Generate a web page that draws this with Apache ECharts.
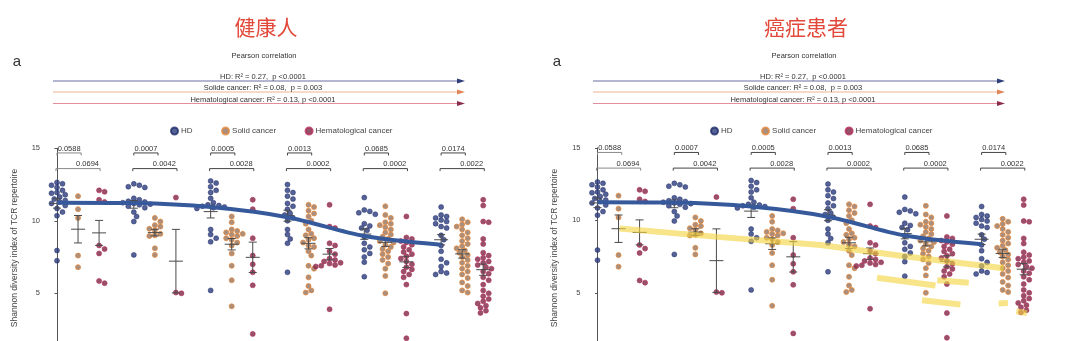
<!DOCTYPE html>
<html>
<head>
<meta charset="utf-8">
<script src="https://cdn.jsdelivr.net/npm/echarts@6/dist/echarts.min.js"></script>
<style>
  html, body { margin: 0; padding: 0; background: #fff; width: 1080px; height: 341px; overflow: hidden; }
  /* the plot continues below the visible strip down to the y = 0 baseline */
  #chart { width: 1080px; height: 380px; }
</style>
</head>
<body>
<div id="chart"></div>
<script>
// ---- data ---------------------------------------------------------------
const panelTitles = ['健康人', '癌症患者'];
const groupNames = ['HD', 'Solid cancer', 'Hematological cancer'];

// Shannon diversity index per donor, one inner list per age band
const hdValues = [
  [12.65, 12.55, 12.45, 12.3, 12.1, 11.95, 11.9, 11.8, 11.65, 11.5, 11.4, 11.3, 11.2, 11.05, 10.85, 10.6, 10.35, 7.95, 7.25],
  [12.55, 12.45, 12.35, 12.3, 11.55, 11.45, 11.35, 11.3, 11.25, 11.2, 11.15, 11.1, 11.0, 10.9, 10.6, 10.3, 9.95, 7.65],
  [12.75, 12.6, 12.35, 12.1, 11.95, 11.55, 11.25, 11.1, 11.05, 11.0, 10.95, 10.9, 10.85, 9.4, 9.05, 8.8, 8.55, 5.2],
  [12.5, 12.1, 11.95, 11.7, 11.5, 11.2, 11.0, 10.8, 10.5, 10.4, 10.2, 10.0, 9.4, 9.05, 8.75, 8.45, 6.45],
  [11.6, 10.75, 10.65, 10.55, 10.45, 9.8, 9.65, 9.5, 9.35, 8.9, 8.45, 8.2, 8.0, 7.75, 7.5, 7.15, 6.15],
  [10.95, 10.4, 10.3, 10.2, 10.05, 9.95, 9.8, 9.6, 9.5, 9.0, 8.7, 8.3, 7.9, 7.35, 7.1, 6.85, 6.5, 6.4, 6.3]
];
const solidValues = [
  [11.7, 10.8, 10.2, 7.6, 6.8],
  [10.2, 9.95, 9.7, 9.6, 9.45, 9.35, 9.1, 9.0, 8.95, 8.1, 7.65],
  [10.3, 9.9, 9.4, 9.3, 9.2, 9.1, 9.05, 8.95, 8.8, 8.7, 8.5, 8.3, 7.75, 6.9, 5.9, 4.1],
  [11.1, 10.95, 10.7, 10.5, 10.3, 10.0, 9.8, 9.4, 9.1, 9.0, 8.8, 8.7, 8.5, 8.3, 8.2, 7.9, 7.6, 6.9, 6.7, 6.1, 5.5, 5.2, 5.05],
  [11.0, 10.4, 10.2, 9.9, 9.8, 9.7, 9.55, 9.4, 9.2, 9.05, 8.9, 8.75, 8.6, 8.5, 8.35, 8.2, 8.05, 7.9, 7.7, 7.5, 7.3, 7.05, 6.7, 6.2, 5.0],
  [10.1, 9.9, 9.75, 9.6, 9.4, 9.2, 9.0, 8.8, 8.6, 8.4, 8.25, 8.1, 7.95, 7.8, 7.65, 7.5, 7.3, 7.1, 6.9, 6.7, 6.5, 6.3, 6.05, 5.75, 5.5, 5.2, 5.05]
];
const hematValues = [
  [12.1, 12.0, 11.45, 11.3, 8.3, 8.05, 7.75, 5.7, 5.85],
  [11.6, 5.0, 5.05],
  [11.45, 10.8, 8.8, 7.6, 7.0, 6.45, 5.55, 2.2],
  [11.1, 9.6, 9.5, 8.45, 8.3, 7.9, 7.7, 7.4, 7.3, 7.2, 7.1, 7.05, 6.95, 6.9, 6.85, 3.9],
  [10.3, 8.85, 8.75, 8.6, 8.5, 8.35, 8.2, 8.0, 7.85, 7.7, 7.55, 7.4, 7.2, 7.0, 6.8, 6.65, 6.5, 6.3, 6.1, 5.6, 3.6, 1.9],
  [11.45, 11.05, 9.95, 9.9, 8.75, 8.4, 7.8, 7.6, 7.45, 7.35, 7.2, 7.1, 6.95, 6.8, 6.7, 6.5, 6.35, 6.1, 5.9, 5.6, 5.2, 5.0, 4.8, 4.6, 4.45, 4.3, 4.15, 4.0, 3.8, 3.65]
];

// fitted HD curve, one point per age band
const hdTrend = [11.25, 11.22, 10.95, 10.25, 8.95, 8.35];

// pairwise p-values per age band: HD vs solid, HD vs hematological
const pHdSolid = ['0.0588', '0.0007', '0.0005', '0.0013', '0.0685', '0.0174'];
const pHdHemat = ['0.0694', '0.0042', '0.0028', '0.0002', '0.0002', '0.0022'];

const pearsonLines = [
  'HD: R\u00B2 = 0.27,  p <0.0001',
  'Solide cancer: R\u00B2 = 0.08,  p = 0.003',
  'Hematological cancer: R\u00B2 = 0.13, p <0.0001'
];

// highlighter strokes on the patient panel, [x position, index value]
const solidTrendMark = [[1.05, 9.44], [5.84, 8.84], [10.6, 8.29], [14.4, 7.55], [19.3, 6.7]];
const shortMarks = [
  [[13.28, 6.04], [16.06, 5.5]],
  [[16.14, 5.87], [17.64, 5.69]],
  [[15.42, 4.49], [17.24, 4.19]],
  [[19.06, 4.26], [19.5, 4.3]],
  [[19.9, 3.73], [20.4, 3.6]]
];

// ---- layout helpers ---------------------------------------------------------
const SLOT = 3.65;               // distance between age bands in x units
const PX_U = 21.05, PX_V = 14.5; // pixels per unit
const DOT = 5;
const FONT = 'Liberation Sans, Arial, sans-serif';
const groupColors = [
  { color: '#2b3b7e', borderColor: '#1f2d66', borderWidth: 0.6 },
  { color: '#94735f', borderColor: '#e3893e', borderWidth: 1 },
  { color: '#7d2746', borderColor: '#b4305c', borderWidth: 0.8 }
];
const allGroups = [hdValues, solidValues, hematValues];

function xOf(cat, grp) { return cat * SLOT + grp; }

// simple beeswarm so that dots with similar values sit side by side
function swarm(values, cu) {
  const sorted = values.slice().sort((a, b) => b - a);
  const placed = [];
  const out = [];
  const step = DOT * 0.55;
  for (const v of sorted) {
    const y = v * PX_V;
    let chosen = 0;
    for (let k = 0; k < 60; k++) {
      const off = k === 0 ? 0 : Math.ceil(k / 2) * step * (k % 2 ? 1 : -1);
      if (placed.every(p => (p[0] - off) ** 2 + (p[1] - y) ** 2 >= DOT * DOT * 0.85)) { chosen = off; break; }
    }
    placed.push([chosen, y]);
    out.push([cu + chosen / PX_U, v]);
  }
  return out;
}

function meanSem(arr) {
  const n = arr.length;
  const m = arr.reduce((a, b) => a + b, 0) / n;
  const sd = Math.sqrt(arr.reduce((a, b) => a + (b - m) ** 2, 0) / (n - 1));
  return [m, sd / Math.sqrt(n)];
}

const panels = [
  { ox: 0, left: 43, top: 148.3 },
  { ox: 540, left: 583.5, top: 147.8 }
];

const grids = [], xAxes = [], yAxes = [], series = [], legends = [], graphics = [];

panels.forEach((p, pi) => {
  grids.push({ left: p.left, top: p.top, width: 456, height: 15 * PX_V });
  xAxes.push({ type: 'value', gridIndex: pi, min: -0.665, max: 21, show: false });
  yAxes.push({
    type: 'value', gridIndex: pi, min: 0, max: 15, interval: 5,
    axisLine: { show: true, lineStyle: { color: '#555', width: 1 } },
    axisTick: { show: true, length: 2.5, lineStyle: { color: '#555' } },
    axisLabel: { fontSize: 7.5, color: '#444', margin: 3, fontFamily: FONT },
    splitLine: { show: false }
  });

  // dots
  groupNames.forEach((name, g) => {
    const pts = [];
    allGroups[g].forEach((vals, c) => { pts.push(...swarm(vals, xOf(c, g))); });
    series.push({
      name, type: 'scatter', xAxisIndex: pi, yAxisIndex: pi, data: pts,
      symbol: 'circle', symbolSize: DOT, itemStyle: groupColors[g], z: 2
    });
  });

  // mean +/- SEM
  const barData = [];
  allGroups.forEach((grp, g) => grp.forEach((vals, c) => {
    const [m, s] = meanSem(vals);
    barData.push([xOf(c, g), m, s]);
  }));
  series.push({
    type: 'custom', xAxisIndex: pi, yAxisIndex: pi, z: 3, silent: true,
    encode: { x: 0, y: 1 }, data: barData,
    renderItem(params, api) {
      const u = api.value(0), m = api.value(1), s = api.value(2);
      const c = api.coord([u, m]);
      const t = api.coord([u, m + s])[1], b = api.coord([u, m - s])[1];
      const st = { stroke: '#4a4a4a', lineWidth: 1 };
      return { type: 'group', children: [
        { type: 'line', shape: { x1: c[0] - 7, y1: c[1], x2: c[0] + 7, y2: c[1] }, style: st },
        { type: 'line', shape: { x1: c[0], y1: t, x2: c[0], y2: b }, style: st },
        { type: 'line', shape: { x1: c[0] - 4, y1: t, x2: c[0] + 4, y2: t }, style: st },
        { type: 'line', shape: { x1: c[0] - 4, y1: b, x2: c[0] + 4, y2: b }, style: st }
      ] };
    }
  });

  // HD trend curve
  series.push({
    type: 'line', xAxisIndex: pi, yAxisIndex: pi, z: 4, silent: true,
    data: hdTrend.map((v, c) => [xOf(c, 0), v]),
    smooth: 0.3, symbol: 'none',
    lineStyle: { color: '#36599b', width: 4 }
  });

  // significance brackets
  const brData = [];
  pHdSolid.forEach((_, c) => {
    brData.push([xOf(c, 0), 14.68, xOf(c, 0) + 1.15, 0, c]);
    brData.push([xOf(c, 0) - 0.05, 13.6, xOf(c, 0) + 2.05, 1, c]);
  });
  series.push({
    type: 'custom', xAxisIndex: pi, yAxisIndex: pi, z: 3, silent: true,
    encode: { x: 0, y: 1 }, data: brData,
    renderItem(params, api) {
      const a = api.coord([api.value(0), api.value(1)]);
      const b = api.coord([api.value(2), api.value(1)]);
      const kind = api.value(3), c = api.value(4);
      const col = c === 0 ? '#888' : '#444';
      const st = { stroke: col, lineWidth: 1 };
      const label = kind === 0 ? pHdSolid[c] : pHdHemat[c];
      const tx = kind === 0 ? (a[0] + b[0]) / 2 : api.coord([xOf(c, 0) + 1.45, 0])[0];
      return { type: 'group', children: [
        { type: 'line', shape: { x1: a[0], y1: a[1], x2: b[0], y2: b[1] }, style: st },
        { type: 'line', shape: { x1: a[0], y1: a[1], x2: a[0], y2: a[1] + 2.5 }, style: st },
        { type: 'line', shape: { x1: b[0], y1: b[1], x2: b[0], y2: b[1] + 2.5 }, style: st },
        { type: 'text', x: tx, y: a[1] - 0.5,
          style: { text: label, fill: '#333', font: '7.5px ' + FONT,
                   align: 'center', verticalAlign: 'bottom', textAlign: 'center', textVerticalAlign: 'bottom' } }
      ] };
    }
  });

  // legend
  legends.push({
    data: groupNames, left: 165 + p.ox, top: 121.5, itemWidth: 7, itemHeight: 7, itemGap: 28.5,
    icon: 'circle', textStyle: { fontSize: 8, color: '#444', fontFamily: FONT, padding: [0, 0, 0, -2] },
    selectedMode: false
  });

  // titles and header
  const T = (x, y, text, font, fill, extra) => Object.assign({
    type: 'text', x, y,
    style: { text, font, fill, align: 'center', verticalAlign: 'middle', textAlign: 'center', textVerticalAlign: 'middle' }
  }, extra || {});
  graphics.push(T(266 + p.ox, 27, panelTitles[pi], '21px "Noto Sans CJK SC", sans-serif', '#e2493a'));
  graphics.push(T(17 + p.ox, 62, 'a', '15px ' + FONT, '#333'));
  graphics.push(T(264 + p.ox, 55.5, 'Pearson correlation', '7.5px ' + FONT, '#333'));
  graphics.push(T(15 + p.ox, 248, 'Shannon diversity index of TCR repertoire', '8.5px ' + FONT, '#444',
    { rotation: Math.PI / 2 }));

  const lineCols = ['#67709f', '#efb394', '#e48e9b'];
  const headCols = ['#2f3d7a', '#e0875a', '#8c2c4c'];
  const ys = [81, 92, 103.5];
  ys.forEach((y, i) => {
    graphics.push({ type: 'line', shape: { x1: 53 + p.ox, y1: y, x2: 459 + p.ox, y2: y },
      style: { stroke: lineCols[i], lineWidth: 1 } });
    graphics.push({ type: 'polygon', shape: { points: [[457 + p.ox, y - 2.6], [465 + p.ox, y], [457 + p.ox, y + 2.6]] },
      style: { fill: headCols[i] } });
    graphics.push(T(263 + p.ox, y - 4, pearsonLines[i], '7.5px ' + FONT, '#333'));
  });
});

// highlighter strokes over the patient panel
const markList = [solidTrendMark, ...shortMarks];
series.push({
  type: 'custom', xAxisIndex: 1, yAxisIndex: 1, z: 6, silent: true,
  encode: { x: 0, y: 1 },
  data: markList.map((m, i) => [m[0][0], m[0][1], i]),
  renderItem(params, api) {
    const pts = markList[api.value(2)].map(q => api.coord(q));
    return { type: 'polyline', shape: { points: pts },
      style: { stroke: 'rgba(243,212,64,0.62)', lineWidth: 6, fill: null, lineJoin: 'round' } };
  }
});

const chart = echarts.init(document.getElementById('chart'), null, { renderer: 'canvas' });
chart.setOption({
  animation: false,
  backgroundColor: '#fff',
  grid: grids, xAxis: xAxes, yAxis: yAxes,
  legend: legends, series, graphic: graphics
});
</script>
</body>
</html>
